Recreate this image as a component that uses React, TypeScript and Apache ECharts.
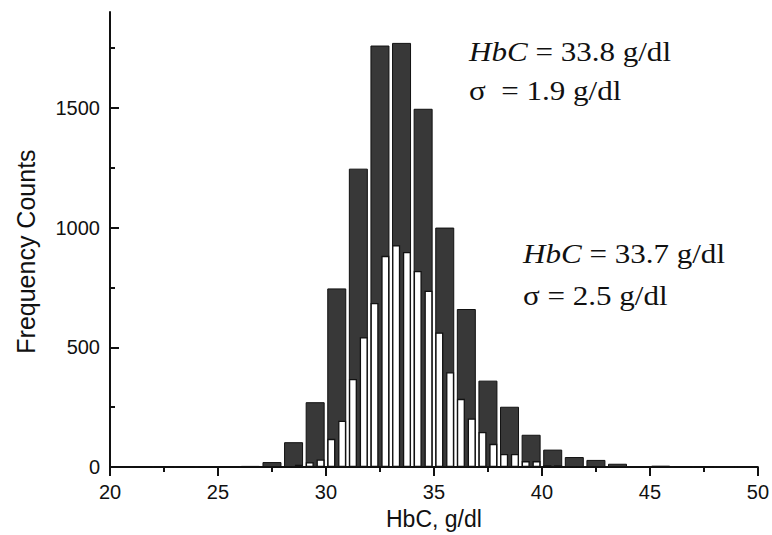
import React, { useEffect, useRef } from "react";
import * as echarts from "echarts";

// Wide bins (dark bars), centre of each 1 g/dl bin
const darkCenters = [20.5, 21.5, 22.5, 23.5, 24.5, 25.5, 26.5, 27.5, 28.5, 29.5, 30.5, 31.5, 32.5, 33.5, 34.5, 35.5, 36.5, 37.5, 38.5, 39.5, 40.5, 41.5, 42.5, 43.5, 44.5, 45.5, 46.5, 47.5, 48.5, 49.5];
const darkCounts = [0, 2, 0, 2, 4, 2, 5, 21, 104, 271, 746, 1246, 1760, 1771, 1496, 1000, 660, 361, 252, 135, 73, 42, 30, 14, 4, 6, 2, 2, 1, 3];

// Narrow bins (white bars), centre of each 0.5 g/dl bin
const whiteCenters = [27.25, 27.75, 28.25, 28.75, 29.25, 29.75, 30.25, 30.75, 31.25, 31.75, 32.25, 32.75, 33.25, 33.75, 34.25, 34.75, 35.25, 35.75, 36.25, 36.75, 37.25, 37.75, 38.25, 38.75, 39.25, 39.75, 40.25, 40.75, 41.25, 41.75, 42.25, 42.75];
const whiteCounts = [2, 3, 3, 10, 20, 32, 118, 194, 368, 542, 685, 882, 926, 898, 819, 736, 562, 396, 285, 203, 147, 97, 55, 55, 25, 25, 8, 8, 3, 3, 2, 2];

const yMajorTicks = [0, 500, 1000, 1500];
const yMinorTicks = [250, 750, 1250, 1750];

const xTitle = "HbC, g/dl";
const yTitle = "Frequency Counts";
const note1 = ["{i|HbC} = 33.8 g/dl", "\u03c3  = 1.9 g/dl"];
const note2 = ["{i|HbC} = 33.7 g/dl", "\u03c3 = 2.5 g/dl"];

const INK = "#111";
const SANS = "'Liberation Sans', Arial, sans-serif";
const SERIF = "'Liberation Serif', 'Times New Roman', serif";

export default function App() {
  const ref = useRef<HTMLDivElement>(null);
  useEffect(() => {
    document.body.style.margin = "0";
    if (!ref.current) return;
    const chart = echarts.init(ref.current, undefined, { renderer: "svg" });
    const noteText = (x: number, y: number, text: string) => ({
      type: "text",
      x,
      y,
      scaleX: 1.15,
      style: {
        text,
        fill: INK,
        fontFamily: SERIF,
        fontSize: 27,
        verticalAlign: "middle",
        rich: {
          i: { fontStyle: "italic", fontFamily: SERIF, fontSize: 27, fill: INK },
        },
      },
    });
    chart.setOption({
      animation: false,
      backgroundColor: "#fff",
      grid: { left: 110, right: 12, top: 12, bottom: 67 },
      xAxis: [
        {
          type: "value",
          min: 20,
          max: 50,
          interval: 5,
          name: xTitle,
          nameLocation: "middle",
          nameGap: 39,
          nameTextStyle: { fontFamily: SANS, fontSize: 23, color: INK },
          axisLine: { show: true, onZero: false, lineStyle: { color: INK, width: 2 } },
          axisTick: { show: true, inside: false, length: 9, lineStyle: { color: INK, width: 2 } },
          minorTick: { show: true, splitNumber: 2, length: 5, lineStyle: { color: INK, width: 2 } },
          axisLabel: { fontFamily: SANS, fontSize: 20, color: INK, margin: 15, formatter: (v: number) => String(v) },
          splitLine: { show: false },
        },
        {
          type: "value",
          min: 20,
          max: 50,
          show: false,
        },
      ],
      yAxis: [
        {
          type: "value",
          min: 0,
          max: 1900,
          interval: 500,
          name: yTitle,
          nameLocation: "middle",
          nameGap: 72,
          nameTextStyle: { fontFamily: SANS, fontSize: 25, color: INK, padding: [0, 24, 0, 0] },
          axisLine: { show: true, lineStyle: { color: INK, width: 2 } },
          axisTick: { show: true, inside: true, length: 9, customValues: yMajorTicks, lineStyle: { color: INK, width: 2 } },
          axisLabel: { fontFamily: SANS, fontSize: 20, color: INK, margin: 10, customValues: yMajorTicks, formatter: (v: number) => String(v) },
          splitLine: { show: false },
        },
        {
          type: "value",
          min: 0,
          max: 1900,
          position: "left",
          axisLine: { show: false },
          axisTick: { show: true, inside: true, length: 5, customValues: yMinorTicks, lineStyle: { color: INK, width: 2 } },
          axisLabel: { show: false },
          splitLine: { show: false },
        },
      ],
      series: [
        {
          type: "bar",
          xAxisIndex: 0,
          yAxisIndex: 0,
          barWidth: 19,
          data: darkCenters.map((x, i) => [x, darkCounts[i]]),
          itemStyle: { color: "#383838", borderColor: INK, borderWidth: 1 },
        },
        {
          type: "bar",
          xAxisIndex: 1,
          yAxisIndex: 0,
          barWidth: 8,
          data: whiteCenters.map((x, i) => [x, whiteCounts[i]]),
          itemStyle: { color: "#fff", borderColor: INK, borderWidth: 1.3 },
        },
      ],
      graphic: [
        noteText(469, 52, note1[0]),
        noteText(469, 91, note1[1]),
        noteText(523, 254, note2[0]),
        noteText(523, 296, note2[1]),
      ],
    });
    return () => chart.dispose();
  }, []);
  return <div ref={ref} style={{ width: 772, height: 535 }} />;
}
